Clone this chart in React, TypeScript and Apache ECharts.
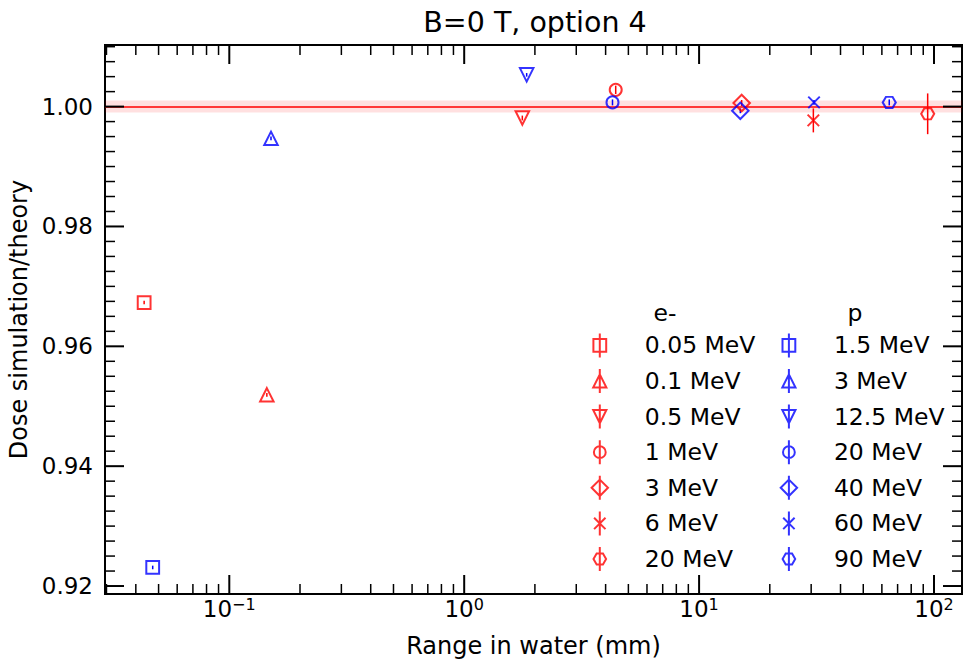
import React, { useEffect, useRef } from 'react';
import * as echarts from 'echarts';

const FONT = 'DejaVu Sans';

const titleText = 'B=0 T, option 4';
const xAxisTitle = 'Range in water (mm)';
const yAxisTitle = 'Dose simulation/theory';
const legendHeaders = ['e-', 'p'];

// axis extents
const xMin = 0.02957;
const xMax = 131.6;
const yMin = 0.91867;
const yMax = 1.01028;

// ticks
const xMajorTicks = [0.1, 1, 10, 100];
const xMinorTicks = [
  0.03, 0.04, 0.05, 0.06, 0.07, 0.08, 0.09,
  0.2, 0.3, 0.4, 0.5, 0.6, 0.7, 0.8, 0.9,
  2, 3, 4, 5, 6, 7, 8, 9,
  20, 30, 40, 50, 60, 70, 80, 90,
];
const yMajorTicks = [0.92, 0.94, 0.96, 0.98, 1.0];
const yMinorTicks = [
  0.9225, 0.925, 0.9275, 0.93, 0.9325, 0.935, 0.9375,
  0.9425, 0.945, 0.9475, 0.95, 0.9525, 0.955, 0.9575,
  0.9625, 0.965, 0.9675, 0.97, 0.9725, 0.975, 0.9775,
  0.9825, 0.985, 0.9875, 0.99, 0.9925, 0.995, 0.9975,
  1.0025, 1.005, 1.0075, 1.01,
];

// reference line and band
const refLine = 1.0;
const refBand = [0.999, 1.001];

// electrons (e-)
const electronLabels = ['0.05 MeV', '0.1 MeV', '0.5 MeV', '1 MeV', '3 MeV', '6 MeV', '20 MeV'];
const electronRange = [0.0434, 0.1445, 1.768, 4.416, 15.18, 30.65, 94.0];
const electronRatio = [0.9673, 0.9519, 0.9981, 1.0028, 1.0006, 0.9977, 0.9988];
const electronErr = [0.0003, 0.0003, 0.0004, 0.0007, 0.0005, 0.002, 0.0034];

// protons (p)
const protonLabels = ['1.5 MeV', '3 MeV', '12.5 MeV', '20 MeV', '40 MeV', '60 MeV', '90 MeV'];
const protonRange = [0.0472, 0.1505, 1.845, 4.279, 14.98, 30.85, 64.5];
const protonRatio = [0.9231, 0.9947, 1.0053, 1.0007, 0.9993, 1.0007, 1.0007];
const protonErr = [0.0003, 0.0003, 0.0003, 0.0005, 0.0004, 0.0004, 0.0005];

const RED = '#ff0000';
const BLUE = '#0000ff';

const markerSymbols = [
  'rect',
  'triangle',
  'path://M0,0 L2,0 L1,2 Z',
  'circle',
  'diamond',
  'path://M0,0 L10,10 M10,0 L0,10',
  'path://M0,5 L2.887,0 L8.66,0 L11.547,5 L8.66,10 L2.887,10 Z',
];
const markerSizes: any[] = [12.8, [13.5, 13.5], [13.5, 13.5], 12, 16.5, 11.5, [13, 11.2]];

const legendIcons = [
  'path://M3.6,5.6 H16.4 V18.4 H3.6 Z M10,0 V24',
  'path://M10,5.4 L16.6,18.6 L3.4,18.6 Z M10,0 V24',
  'path://M3.4,5.4 L16.6,5.4 L10,18.6 Z M10,0 V24',
  'path://M15.9,12 A5.9,5.9 0 1 1 4.1,12 A5.9,5.9 0 1 1 15.9,12 Z M10,0 V24',
  'path://M10,3.8 L18.2,12 L10,20.2 L1.8,12 Z M10,0 V24',
  'path://M4.3,6.3 L15.7,17.7 M15.7,6.3 L4.3,17.7 M10,0 V24',
  'path://M3.7,12 L6.85,6.6 L13.15,6.6 L16.3,12 L13.15,17.4 L6.85,17.4 Z M10,0 V24',
];

function buildScatter(prefix: string, labels: string[], xs: number[], ys: number[], color: string, withRef: boolean) {
  return labels.map((lab, i) => {
    const s: any = {
      type: 'scatter',
      name: prefix + ' ' + lab,
      symbol: markerSymbols[i],
      symbolSize: markerSizes[i],
      itemStyle: { color: 'rgba(0,0,0,0)', borderColor: color, borderWidth: 2 },
      data: [[xs[i], ys[i]]],
      z: 5,
      silent: true,
    };
    if (withRef && i === 0) {
      s.markLine = {
        silent: true,
        symbol: ['none', 'none'],
        label: { show: false },
        lineStyle: { color: RED, width: 1.5, type: 'solid' },
        data: [{ yAxis: refLine }],
        z: 1,
      };
      s.markArea = {
        silent: true,
        itemStyle: { color: 'rgba(255,0,0,0.12)' },
        data: [[{ yAxis: refBand[0] }, { yAxis: refBand[1] }]],
        z: 0,
      };
    }
    return s;
  });
}

function errSeries(name: string, xs: number[], ys: number[], errs: number[], color: string) {
  return {
    type: 'custom',
    name,
    silent: true,
    z: 4,
    data: xs.map((x, i) => [x, ys[i], errs[i]]),
    encode: { x: 0, y: 1 },
    renderItem: (params: any, api: any) => {
      const x = api.value(0);
      const y = api.value(1);
      const e = api.value(2);
      const a = api.coord([x, y + e]);
      const b = api.coord([x, y - e]);
      return {
        type: 'line',
        shape: { x1: a[0], y1: a[1], x2: b[0], y2: b[1] },
        style: { stroke: color, lineWidth: 1.5 },
      };
    },
  };
}

const stripPrefix = (n: string) => n.replace(/^(e-|p) /, '');

const legendBase = {
  orient: 'vertical',
  top: 332.4,
  padding: 0,
  itemWidth: 80,
  itemHeight: 24,
  itemGap: 9.6,
  selectedMode: false,
  formatter: stripPrefix,
  textStyle: { fontFamily: FONT, fontSize: 23.5, color: '#000', lineHeight: 24 },
};

export default function App() {
  const ref = useRef<HTMLDivElement>(null);
  useEffect(() => {
    if (!ref.current) return;
    const chart = echarts.init(ref.current, undefined, { renderer: 'svg' });

    const xTickData = xMajorTicks.map((v) => [v, 1.0, 1]).concat(xMinorTicks.map((v) => [v, 1.0, 0]));
    const yTickData = yMajorTicks.map((v) => [1, v, 1]).concat(yMinorTicks.map((v) => [1, v, 0]));

    const headerStyle = (text: string) => ({
      text,
      font: '23.5px "DejaVu Sans"',
      fill: '#000',
      align: 'center',
      verticalAlign: 'middle',
      textAlign: 'center',
      textVerticalAlign: 'middle',
    });

    const option: any = {
      animation: false,
      backgroundColor: '#ffffff',
      grid: {
        left: 105,
        right: 3,
        top: 45,
        bottom: 67,
        show: true,
        borderColor: '#000',
        borderWidth: 2,
        backgroundColor: 'rgba(0,0,0,0)',
        containLabel: false,
        outerBoundsMode: 'none',
      },
      xAxis: {
        type: 'log',
        logBase: 10,
        min: xMin,
        max: xMax,
        axisLine: { show: false },
        axisTick: { show: false },
        splitLine: { show: false },
        minorTick: { show: false },
        name: xAxisTitle,
        nameLocation: 'middle',
        nameGap: 52,
        nameTextStyle: { fontFamily: FONT, fontSize: 24, color: '#000', verticalAlign: 'middle', align: 'center' },
        axisLabel: {
          margin: 2,
          color: '#000',
          fontFamily: FONT,
          formatter: (v: number) => {
            const l = Math.log10(v);
            const r = Math.round(l);
            if (Math.abs(l - r) > 1e-6) return '';
            if (!xMajorTicks.some((t) => Math.abs(Math.log10(t) - r) < 1e-6)) return '';
            const exp = r < 0 ? '\u2212' + Math.abs(r) : String(r);
            return '{b|10}{s|' + exp + '}';
          },
          rich: {
            b: { fontFamily: FONT, fontSize: 23, color: '#000', lineHeight: 24, verticalAlign: 'bottom', padding: [6, 0, 0, 0] },
            s: { fontFamily: FONT, fontSize: 16, color: '#000', lineHeight: 16, verticalAlign: 'top' },
          },
        },
      },
      yAxis: {
        type: 'value',
        min: yMin,
        max: yMax,
        axisLine: { show: false },
        axisTick: { show: false },
        splitLine: { show: false },
        name: yAxisTitle,
        nameLocation: 'middle',
        nameGap: 85,
        nameTextStyle: { fontFamily: FONT, fontSize: 24, color: '#000', verticalAlign: 'middle', align: 'center' },
        axisLabel: {
          margin: 12,
          color: '#000',
          fontFamily: FONT,
          fontSize: 23,
          formatter: (v: number) => {
            const ok = yMajorTicks.some((t) => Math.abs(t - v) < 1e-7);
            return ok ? v.toFixed(2) : '';
          },
        },
      },
      legend: [
        {
          ...legendBase,
          left: 590.6,
          data: electronLabels.map((l, i) => ({ name: 'e- ' + l, icon: legendIcons[i] })),
        },
        {
          ...legendBase,
          left: 779.7,
          data: protonLabels.map((l, i) => ({ name: 'p ' + l, icon: legendIcons[i] })),
        },
      ],
      graphic: [
        {
          type: 'text',
          x: 535,
          y: 22,
          style: { ...headerStyle(titleText), font: '28.5px "DejaVu Sans"' },
        },
        { type: 'text', x: 665, y: 313, style: headerStyle(legendHeaders[0]) },
        { type: 'text', x: 855, y: 313, style: headerStyle(legendHeaders[1]) },
      ],
      series: [
        {
          type: 'custom',
          name: '_xticks',
          silent: true,
          z: 6,
          clip: false,
          data: xTickData,
          encode: { x: 0, y: 1 },
          renderItem: (params: any, api: any) => {
            const v = api.value(0);
            const major = api.value(2) === 1;
            const p = api.coord([v, 1.0]);
            const cs = params.coordSys;
            const len = major ? 19 : 10;
            const w = major ? 2 : 1.5;
            const bottom = cs.y + cs.height;
            return {
              type: 'group',
              children: [
                { type: 'line', shape: { x1: p[0], y1: bottom, x2: p[0], y2: bottom - len }, style: { stroke: '#000', lineWidth: w } },
                { type: 'line', shape: { x1: p[0], y1: cs.y, x2: p[0], y2: cs.y + len }, style: { stroke: '#000', lineWidth: w } },
              ],
            };
          },
        },
        {
          type: 'custom',
          name: '_yticks',
          silent: true,
          z: 6,
          clip: false,
          data: yTickData,
          encode: { x: 0, y: 1 },
          renderItem: (params: any, api: any) => {
            const v = api.value(1);
            const major = api.value(2) === 1;
            const p = api.coord([1, v]);
            const cs = params.coordSys;
            const len = major ? 19 : 10;
            const w = major ? 2 : 1.5;
            const right = cs.x + cs.width;
            return {
              type: 'group',
              children: [
                { type: 'line', shape: { x1: cs.x, y1: p[1], x2: cs.x + len, y2: p[1] }, style: { stroke: '#000', lineWidth: w } },
                { type: 'line', shape: { x1: right, y1: p[1], x2: right - len, y2: p[1] }, style: { stroke: '#000', lineWidth: w } },
              ],
            };
          },
        },
        errSeries('_eerr', electronRange, electronRatio, electronErr, RED),
        errSeries('_perr', protonRange, protonRatio, protonErr, BLUE),
        ...buildScatter('e-', electronLabels, electronRange, electronRatio, RED, true),
        ...buildScatter('p', protonLabels, protonRange, protonRatio, BLUE, false),
      ],
    };
    chart.setOption(option);
    return () => chart.dispose();
  }, []);
  return <div ref={ref} style={{ position: 'fixed', left: 0, top: 0, width: 965, height: 661 }} />;
}
